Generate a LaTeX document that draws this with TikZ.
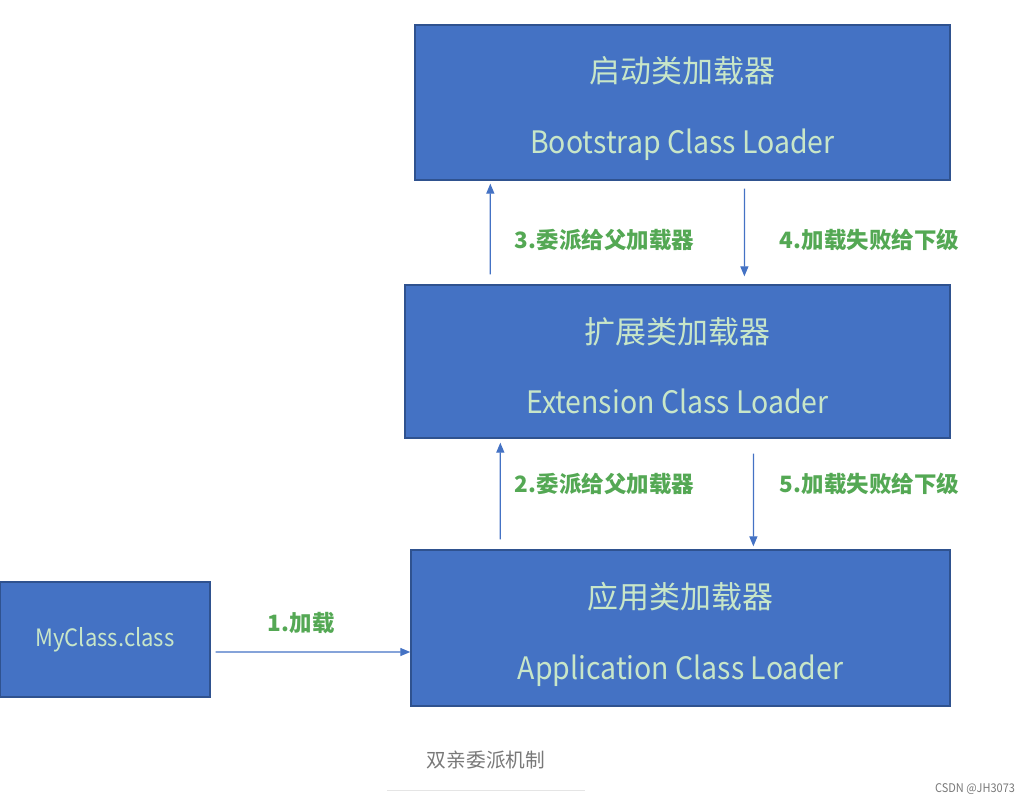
\documentclass[tikz,border=0pt]{standalone}
\usepackage{fontspec}
\usetikzlibrary{arrows.meta}
\newfontfamily\cjk{Noto Sans CJK SC}
\newfontfamily\cjklatin[FakeStretch=0.92]{Noto Sans CJK SC}
\definecolor{boxblue}{RGB}{68,114,196}
\definecolor{boxedge}{RGB}{47,82,143}
\definecolor{boxtext}{RGB}{200,230,200}
\definecolor{stepgreen}{RGB}{84,168,84}
\definecolor{captiongray}{RGB}{120,120,120}

\begin{document}
\begin{tikzpicture}[x=0.025cm, y=-0.025cm,
  loader/.style={draw=boxedge, fill=boxblue, line width=0.9pt, text=boxtext, align=center, inner sep=0pt, font=\cjk\fontsize{22pt}{50pt}\selectfont},
  steplabel/.style={anchor=west, text=stepgreen, font=\cjk\bfseries\fontsize{16pt}{18pt}\selectfont},
  arr/.style={-{Triangle[length=0.25cm,width=0.2cm]}, draw=boxblue, line width=0.9pt}]
\useasboundingbox (0,0) rectangle (1034,803);

% Bootstrap loader
\node[loader, minimum width=13.375cm, minimum height=3.875cm] (boot) at (682.5,102.5) {\rule{0pt}{27pt}启动类加载器\\\cjklatin Bootstrap Class Loader};

% Extension loader
\node[loader, minimum width=13.625cm, minimum height=3.825cm] (ext) at (677.5,361.5) {\rule{0pt}{24pt}扩展类加载器\\\cjklatin Extension Class Loader};

% Application loader
\node[loader, minimum width=13.475cm, minimum height=3.9cm] (app) at (680.5,628) {\rule{0pt}{28pt}应用类加载器\\\cjklatin Application Class Loader};

% Class file
\node[loader, minimum width=5.25cm, minimum height=2.875cm, font=\cjklatin\fontsize{17pt}{20pt}\selectfont] (my) at (105,639.5) {MyClass.class};

% Labels
\node[steplabel] (l3) at (510,240) {3.委派给父加载器};
\node[steplabel] (l4) at (775,240) {4.加载失败给下级};
\node[steplabel] (l2) at (510,484) {2.委派给父加载器};
\node[steplabel] (l5) at (775,484) {5.加载失败给下级};
\node[steplabel] (l1) at (263,623) {1.加载};

% Arrows
\draw[arr, shorten <=0.25cm, shorten >=0.075cm] ([xshift=2.15cm]ext.north west) -- ([xshift=1.9cm]boot.south west);
\draw[arr, shorten <=0.2cm, shorten >=0.2cm] ([xshift=8.25cm]boot.south west) -- ([xshift=8.5cm]ext.north west);
\draw[arr, shorten <=0.25cm, shorten >=0.1cm] ([xshift=2.25cm]app.north west) -- ([xshift=2.4cm]ext.south west);
\draw[arr, shorten <=0.375cm, shorten >=0.075cm] ([xshift=8.725cm]ext.south west) -- ([xshift=8.575cm]app.north west);
\draw[arr, shorten <=0.125cm] ([yshift=-0.3125cm]my.east) -- ([yshift=-0.6cm]app.west);

% Caption
\node[text=captiongray, font=\cjk\fontsize{14pt}{16pt}\selectfont] (cap) at (486,760) {双亲委派机制};
\draw[black!10, line width=0.6pt] (387,790) -- (585,790);
\node[anchor=east, text=captiongray, font=\cjklatin\fontsize{8.5pt}{10pt}\selectfont] (mark) at (1020,789) {CSDN @JH3073};
\end{tikzpicture}
\end{document}
